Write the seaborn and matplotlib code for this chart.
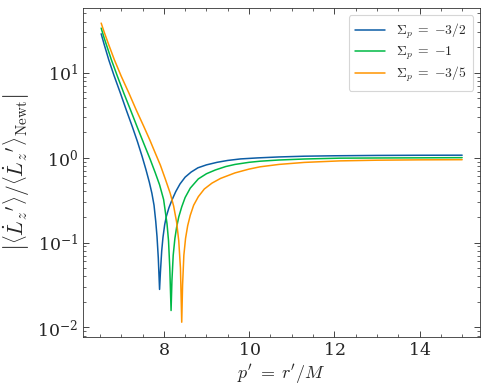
import numpy as np
import pandas as pd
import matplotlib
matplotlib.use("Agg")
import matplotlib.pyplot as plt
from matplotlib.ticker import AutoMinorLocator, LogLocator, NullFormatter
import seaborn as sns

labels = [r"$\Sigma_p \;=\; {-3/2}$", r"$\Sigma_p \;=\; {-1}$", r"$\Sigma_p \;=\; {-3/5}$"]
colors = ["#0C5DA5", "#00B945", "#FF9500"]

# Sigma_p = -3/2
x_a = [6.53, 6.60, 6.71, 6.83, 6.98, 7.12, 7.26, 7.38, 7.49, 7.58, 7.66, 7.72, 7.77, 7.81,
       7.84, 7.87, 7.90, 7.92, 7.95, 7.98, 8.02, 8.06, 8.12, 8.19, 8.28, 8.38, 8.50, 8.64,
       8.80, 9.00, 9.25, 9.50, 9.80, 10.2, 10.7, 11.3, 12.0, 13.0, 14.0, 15.0]
y_a = [28.8, 21.6, 14.1, 9.33, 5.77, 3.63, 2.32, 1.55, 1.035, 0.724, 0.513, 0.380, 0.275, 0.178,
       0.1175, 0.066, 0.028, 0.0447, 0.0794, 0.115, 0.162, 0.204, 0.257, 0.316, 0.398, 0.490,
       0.589, 0.676, 0.759, 0.822, 0.881, 0.927, 0.966, 0.993, 1.019, 1.040, 1.052, 1.062,
       1.067, 1.069]

# Sigma_p = -1
x_b = [6.53, 6.60, 6.77, 6.91, 7.06, 7.22, 7.37, 7.52, 7.68, 7.80, 7.90, 7.995, 8.075, 8.11,
       8.14, 8.17, 8.19, 8.22, 8.26, 8.30, 8.35, 8.42, 8.50, 8.62, 8.81, 9.00, 9.21, 9.45,
       9.67, 10.0, 10.26, 10.7, 11.3, 12.13, 13.0, 14.0, 15.0]
y_b = [33.6, 25.7, 14.2, 9.12, 5.77, 3.63, 2.33, 1.51, 0.955, 0.661, 0.479, 0.321, 0.166, 0.105,
       0.050, 0.0158, 0.0355, 0.0708, 0.112, 0.151, 0.200, 0.263, 0.339, 0.437, 0.562, 0.646,
       0.716, 0.785, 0.832, 0.881, 0.908, 0.938, 0.964, 0.986, 0.991, 0.995, 1.0]

# Sigma_p = -3/5
x_c = [6.53, 6.60, 6.70, 6.84, 7.00, 7.18, 7.35, 7.53, 7.67, 7.80, 7.92, 8.04, 8.15, 8.23,
       8.30, 8.35, 8.39, 8.42, 8.44, 8.47, 8.51, 8.56, 8.62, 8.70, 8.81, 8.95, 9.13, 9.33,
       9.67, 10.0, 10.26, 10.7, 11.3, 12.13, 13.0, 14.0, 15.0]
y_c = [38.5, 30.2, 21.9, 14.2, 9.12, 5.77, 3.67, 2.33, 1.62, 1.13, 0.813, 0.550, 0.380, 0.269,
       0.174, 0.105, 0.050, 0.0115, 0.0316, 0.0708, 0.112, 0.158, 0.209, 0.275, 0.347, 0.427,
       0.501, 0.569, 0.661, 0.733, 0.780, 0.832, 0.879, 0.916, 0.933, 0.942, 0.946]

df = pd.concat([
    pd.DataFrame({"x": x_a, "y": y_a, "s": labels[0]}),
    pd.DataFrame({"x": x_b, "y": y_b, "s": labels[1]}),
    pd.DataFrame({"x": x_c, "y": y_c, "s": labels[2]}),
], ignore_index=True)

sns.set_style("ticks")
plt.rcParams.update({
    "font.family": "serif",
    "font.serif": ["DejaVu Serif"],
    "mathtext.fontset": "cm",
    "axes.formatter.use_mathtext": True,
    "axes.linewidth": 0.6,
    "axes.edgecolor": "#333333",
    "xtick.direction": "in",
    "ytick.direction": "in",
    "xtick.top": True,
    "ytick.right": True,
    "xtick.major.size": 4,
    "ytick.major.size": 4,
    "xtick.minor.size": 2,
    "ytick.minor.size": 2,
    "xtick.major.width": 0.6,
    "ytick.major.width": 0.6,
    "xtick.minor.width": 0.5,
    "ytick.minor.width": 0.5,
    "xtick.minor.visible": True,
    "ytick.minor.visible": True,
})

fig = plt.figure(figsize=(4.89, 3.88), dpi=100)
ax = fig.add_axes([0.17, 0.131, 0.812, 0.848])

sns.lineplot(data=df, x="x", y="y", hue="s", palette=colors, ax=ax,
             linewidth=1.1, sort=False, estimator=None)
ax.set_yscale("log")
ax.xaxis.set_minor_locator(AutoMinorLocator(4))
ax.yaxis.set_major_locator(LogLocator(base=10, numticks=10))
ax.yaxis.set_minor_locator(LogLocator(base=10, subs=np.arange(2, 10), numticks=20))
ax.yaxis.set_minor_formatter(NullFormatter())
ax.set_xticks([8, 10, 12, 14])
ax.tick_params(which="major", labelsize=12.5)

ax.set_xlabel(r"$p' \;=\; r'/M$", fontsize=13, labelpad=2)
ax.set_ylabel(r"$\left|\left\langle \dot{L}_z{}' \right\rangle / \left\langle \dot{L}_z{}' \right\rangle_{\rm Newt}\right|$",
              fontsize=15.5, labelpad=4)

leg = ax.legend(loc="upper right", fontsize=9.8, frameon=True, fancybox=True,
                framealpha=0.8, edgecolor="#cccccc", handlelength=2.2, borderpad=0.5,
                labelspacing=0.25)
leg.get_frame().set_linewidth(0.8)

fig.savefig("out.png", dpi=100)
